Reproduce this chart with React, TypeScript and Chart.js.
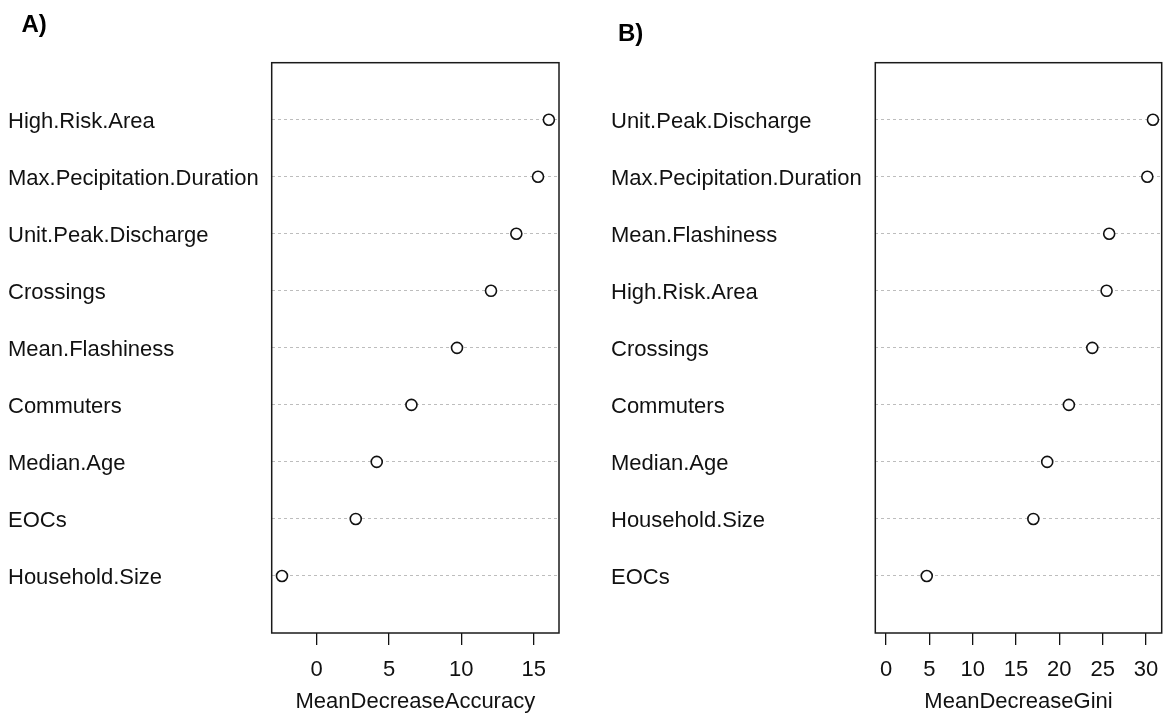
import React, { useEffect, useRef } from "react";
import { Chart, registerables } from "chart.js";

Chart.register(...registerables);

// ---- Data ----
const accuracyLabels = [
  "High.Risk.Area",
  "Max.Pecipitation.Duration",
  "Unit.Peak.Discharge",
  "Crossings",
  "Mean.Flashiness",
  "Commuters",
  "Median.Age",
  "EOCs",
  "Household.Size",
];
const accuracyValues = [16.05, 15.3, 13.8, 12.05, 9.7, 6.55, 4.15, 2.7, -2.4];
const accuracyTicks = [0, 5, 10, 15];

const giniLabels = [
  "Unit.Peak.Discharge",
  "Max.Pecipitation.Duration",
  "Mean.Flashiness",
  "High.Risk.Area",
  "Crossings",
  "Commuters",
  "Median.Age",
  "Household.Size",
  "EOCs",
];
const giniValues = [30.8, 30.15, 25.75, 25.45, 23.8, 21.1, 18.6, 17.0, 4.7];
const giniTicks = [0, 5, 10, 15, 20, 25, 30];

const FONT = "'Liberation Sans', Arial, Helvetica, sans-serif";

const boxPlugin = {
  id: "rbox",
  afterDatasetsDraw(chart: any) {
    const { ctx, chartArea } = chart;
    const { left, top, right, bottom } = chartArea;
    ctx.save();
    ctx.strokeStyle = "#1a1a1a";
    ctx.lineWidth = 1.5;
    ctx.strokeRect(left, top, right - left, bottom - top);
    ctx.restore();
  },
};

type PanelProps = {
  labels: string[];
  values: number[];
  ticks: number[];
  xMin: number;
  xMax: number;
  title: string;
  left: number;
  width: number;
  padLeft: number;
  yWidth: number;
  padRight: number;
};

function DotPanel(p: PanelProps) {
  const ref = useRef<HTMLCanvasElement | null>(null);
  useEffect(() => {
    if (!ref.current) return;
    const n = p.labels.length;
    const data = p.values.map((v, i) => ({ x: v, y: n - i }));
    const chart = new Chart(ref.current, {
      type: "scatter",
      data: {
        datasets: [
          {
            data,
            pointStyle: "circle",
            pointRadius: 5.5,
            pointHoverRadius: 5.5,
            borderColor: "#111",
            backgroundColor: "#fff",
            borderWidth: 1.6,
            showLine: false,
            clip: false,
          },
        ],
      },
      options: {
        responsive: false,
        animation: false,
        devicePixelRatio: 1,
        layout: {
          autoPadding: false,
          padding: { left: p.padLeft, right: p.padRight, top: 62.7, bottom: 0 },
        },
        plugins: {
          legend: { display: false },
          tooltip: { enabled: false },
        },
        scales: {
          x: {
            type: "linear",
            min: p.xMin,
            max: p.xMax,
            afterBuildTicks: (s: any) => {
              s.ticks = p.ticks.map((v) => ({ value: v }));
            },
            afterFit: (s: any) => {
              s.height = 80;
              s.paddingLeft = 0;
              s.paddingRight = 0;
            },
            grid: {
              drawOnChartArea: false,
              drawTicks: true,
              tickLength: 12,
              color: "#111",
              lineWidth: 1.3,
            },
            border: { display: false },
            ticks: {
              font: { family: FONT, size: 22 },
              color: "#111",
              padding: 12,
              maxRotation: 0,
              autoSkip: false,
              callback: (v: any) => String(v),
            },
            title: {
              display: true,
              text: p.title,
              font: { family: FONT, size: 22, lineHeight: 1 },
              color: "#111",
              padding: 0,
            },
          },
          y: {
            type: "linear",
            min: 0,
            max: n + 1,
            afterBuildTicks: (s: any) => {
              s.ticks = p.labels.map((_, i) => ({ value: n - i }));
            },
            afterFit: (s: any) => {
              s.width = p.yWidth;
              s.paddingTop = 0;
              s.paddingBottom = 0;
            },
            grid: {
              drawTicks: false,
              color: "#bdbdbd",
              lineWidth: 1,
            },
            border: { display: false, dash: [3, 3] },
            ticks: {
              crossAlign: "far",
              padding: 0,
              labelOffset: 2,
              autoSkip: false,
              font: { family: FONT, size: 22 },
              color: "#111",
              callback: (v: any) => {
                const idx = n - Number(v);
                return p.labels[idx] ?? "";
              },
            },
          },
        },
      },
      plugins: [boxPlugin],
    } as any);
    return () => chart.destroy();
  }, []);
  return (
    <canvas
      ref={ref}
      width={p.width}
      height={713}
      style={{ position: "absolute", left: p.left, top: 0, display: "block" }}
    />
  );
}

export default function App() {
  return (
    <div
      style={{
        position: "absolute",
        left: 0,
        top: 0,
        width: 1163,
        height: 713,
        background: "#fff",
        overflow: "hidden",
        fontFamily: FONT,
      }}
    >
      <DotPanel
        labels={accuracyLabels}
        values={accuracyValues}
        ticks={accuracyTicks}
        xMin={-3.11}
        xMax={16.75}
        title="MeanDecreaseAccuracy"
        left={0}
        width={580}
        padLeft={8}
        yWidth={263.7}
        padRight={21}
      />
      <DotPanel
        labels={giniLabels}
        values={giniValues}
        ticks={giniTicks}
        xMin={-1.235}
        xMax={31.81}
        title="MeanDecreaseGini"
        left={583}
        width={580}
        padLeft={28}
        yWidth={264.3}
        padRight={1.3}
      />
      <div
        style={{
          position: "absolute",
          left: 21.5,
          top: 12,
          fontSize: 24,
          lineHeight: "24px",
          fontWeight: "bold",
          color: "#000",
        }}
      >
        A)
      </div>
      <div
        style={{
          position: "absolute",
          left: 618,
          top: 21,
          fontSize: 24,
          lineHeight: "24px",
          fontWeight: "bold",
          color: "#000",
        }}
      >
        B)
      </div>
    </div>
  );
}
